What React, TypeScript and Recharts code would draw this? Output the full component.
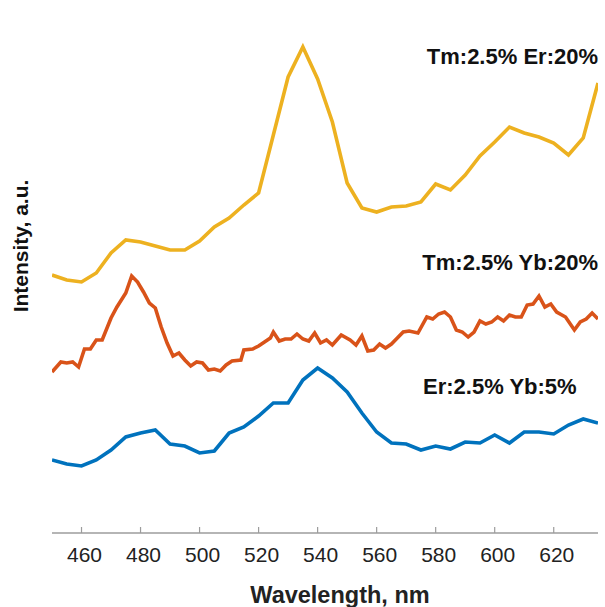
import { LineChart, Line, XAxis, YAxis } from "recharts"

const FONT = '"Liberation Sans", Arial, Helvetica, sans-serif'

// wavelengths (nm) of the 5 nm scans
const wl5 = [
  450, 455, 460, 465, 470, 475, 480, 485, 490, 495, 500, 505, 510, 515, 520, 525, 530, 535, 540,
  545, 550, 555, 560, 565, 570, 575, 580, 585, 590, 595, 600, 605, 610, 615, 620, 625, 630, 635,
]

// Tm:2.5% Er:20% (offset upward)
const tmErIntensity = [
  258, 253, 251, 260, 280, 293, 291, 287, 283, 283, 292, 306, 315, 328, 340, 398, 456, 486, 454,
  411, 350, 325, 321, 326, 327, 331, 349, 343, 358, 377, 391, 406, 400, 396, 390, 378, 395, 450,
]

// Er:2.5% Yb:5%
const erYbIntensity = [
  73, 69, 67, 73, 83, 96, 100, 103, 89, 87, 80, 82, 100, 106, 117, 130, 130, 153, 165,
  155, 141, 120, 101, 90, 89, 83, 87, 84, 91, 90, 98, 90, 101, 101, 99, 108, 114, 110,
]

// Tm:2.5% Yb:20% was scanned on a finer grid
const tmYbNm = [
  450, 453, 455, 457, 459, 461, 463, 465, 467, 470, 472, 475, 477, 479, 481, 483, 485, 487, 489,
  491, 493, 495, 497, 499, 501, 503, 505, 507, 509, 511, 514, 515, 518, 520, 522, 524, 525, 527,
  529, 531, 533, 535, 537, 539, 541, 543, 545, 548, 551, 553, 555, 557, 559, 561, 563, 565, 567,
  569, 571, 574, 577, 579, 581, 583, 585, 587, 589, 591, 593, 595, 597, 599, 601, 603, 605, 607,
  609, 611, 613, 615, 617, 619, 621, 624, 627, 629, 631, 633, 635,
]
const tmYbIntensity = [
  161, 171, 170, 171, 166, 184, 184, 193, 193, 215, 226, 240, 257, 251, 241, 230, 225, 206, 190,
  177, 180, 173, 167, 171, 170, 163, 164, 162, 168, 172, 173, 183, 184, 187, 191, 195, 201, 192,
  194, 194, 199, 194, 192, 200, 190, 193, 188, 198, 193, 188, 197, 182, 183, 189, 185, 189, 195,
  201, 202, 200, 216, 214, 219, 221, 216, 203, 201, 196, 201, 212, 209, 211, 216, 212, 218, 216,
  216, 228, 229, 237, 226, 229, 221, 216, 203, 211, 214, 220, 214,
]

const xTicks = [460, 480, 500, 520, 540, 560, 580, 600, 620]

const tmErData = wl5.map((nm, i) => ({ nm, v: tmErIntensity[i] }))
const erYbData = wl5.map((nm, i) => ({ nm, v: erYbIntensity[i] }))
const tmYbData = tmYbNm.map((nm, i) => ({ nm, v: tmYbIntensity[i] }))

const AXIS = "#9c9c9c"

// inward tick mark plus label underneath
function WavelengthTick({ x, y, payload }: any) {
  return (
    <g>
      <line x1={x} y1={y} x2={x} y2={y - 6} stroke={AXIS} strokeWidth={1.2} />
      <text x={x + 3} y={y + 29} textAnchor="middle" fontSize={21} fill="#222" fontFamily={FONT}>
        {payload.value}
      </text>
    </g>
  )
}

const labelStyle = { fontFamily: FONT, fontWeight: 700, fontSize: 22, fill: "#111" }

export default function App() {
  return (
    <div style={{ position: "absolute", left: 0, top: 0, background: "#fff" }}>
      <LineChart width={605} height={607} margin={{ top: 13, right: 7, bottom: 34, left: 52 }}>
        <XAxis
          type="number"
          dataKey="nm"
          domain={[450, 635]}
          ticks={xTicks}
          allowDataOverflow
          height={40}
          tickSize={0}
          tickMargin={0}
          tickLine={false}
          axisLine={{ stroke: AXIS, strokeWidth: 1.4 }}
          tick={<WavelengthTick />}
        />
        <YAxis
          type="number"
          domain={[0, 520]}
          width={0}
          tick={false}
          tickLine={false}
          axisLine={{ stroke: AXIS, strokeWidth: 1.4 }}
        />
        <Line data={tmErData} dataKey="v" stroke="#EDB120" strokeWidth={3.6} dot={false} isAnimationActive={false} />
        <Line data={tmYbData} dataKey="v" stroke="#D95319" strokeWidth={3.6} dot={false} isAnimationActive={false} />
        <Line data={erYbData} dataKey="v" stroke="#0072BD" strokeWidth={3.6} dot={false} isAnimationActive={false} />

        <text x={598} y={64} textAnchor="end" style={labelStyle}>Tm:2.5% Er:20%</text>
        <text x={598} y={270} textAnchor="end" style={labelStyle}>Tm:2.5% Yb:20%</text>
        <text x={423} y={394} textAnchor="start" style={labelStyle}>Er:2.5% Yb:5%</text>

        <text
          x={20}
          y={246}
          transform="rotate(-90 20 246)"
          textAnchor="middle"
          dominantBaseline="central"
          style={{ ...labelStyle, fontSize: 21 }}
        >
          Intensity, a.u.
        </text>
        <text x={340} y={603} textAnchor="middle" style={{ ...labelStyle, fontSize: 23.5, fill: "#222" }}>
          Wavelength, nm
        </text>
      </LineChart>
    </div>
  )
}
